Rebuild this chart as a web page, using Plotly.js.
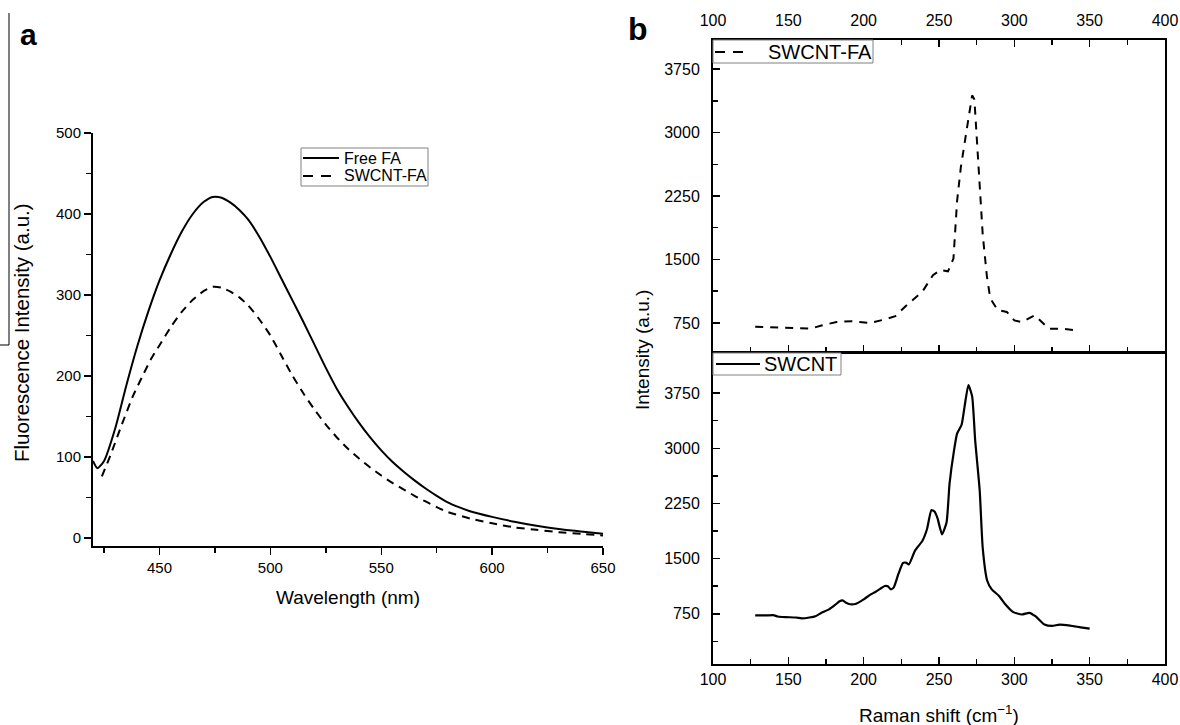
<!DOCTYPE html>
<html>
<head>
<meta charset="utf-8">
<script src="https://cdn.plot.ly/plotly-3.0.1.min.js"></script>
<style>html,body{margin:0;padding:0;background:#fff;}#chart{width:1180px;height:725px;}</style>
</head>
<body>
<div id="chart"></div>
<script>
// ---- Panel a: fluorescence spectra ----
const flFreeX = [420,422,425,430,435,440,445,450,455,460,465,470,474,478,482,486,490,495,500,505,510,515,520,525,530,535,540,545,550,555,560,565,570,575,580,585,590,600,610,620,630,640,650];
const flFreeY = [95,86,95,135,188,237,280,318,350,378,400,415,421,420,414,405,393,372,347,320,293,266,238,210,184,162,142,124,108,94,82,71,61,52,44,38,33,26,20,15,11,8,5];
const flSwX = [424,428,433,438,442,446,450,455,460,465,470,474,478,482,486,490,495,500,505,510,515,520,525,530,535,540,545,550,555,560,565,570,575,580,590,600,610,620,630,640,650];
const flSwY = [76,103,140,175,198,220,238,260,279,294,305,310,309,304,297,287,270,250,225,200,178,158,140,124,110,98,87,77,68,60,52,45,38,32,24,18,13,10,7,5,3];

// ---- Panel b: Raman spectra ----
const ramanFAX = [128,140,150,160,165,172,182,192,204,214,221,229,239,246,251,256,259.6,262,264.5,268,270.6,272,273.5,275,276.8,279,281.7,284,289,295,300,305,313.6,319.7,323,332,342];
const ramanFAY = [703,695,690,683,683,720,760,770,750,790,830,966,1120,1315,1375,1360,1510,2190,2590,2990,3260,3440,3390,2990,2400,1800,1315,1040,900,880,780,760,840,740,680,680,660];
const ramanX = [128,135,140,143,148,155,159,164,168,172,177,181,184,186,188,191,195,200,204,208,211,214,216,218,220,223,226,228,230,234,239,242,245,247,249,252,255,257,260,262,265,267,269.5,272,274,277,279,282,285,290,294,299,305,310,314,320,325,330,337,344,350];
const ramanY = [730,728,732,714,705,700,688,700,718,764,810,870,920,932,905,880,887,946,1005,1050,1090,1128,1125,1083,1110,1288,1440,1446,1420,1606,1743,1900,2160,2140,2050,1830,1990,2520,2975,3200,3320,3570,3860,3705,3110,2430,1650,1200,1083,990,880,777,741,764,718,604,585,604,590,567,549];

// tick values
const aXTicks = [450,500,550,600,650];
const aYTicks = [0,100,200,300,400,500];
const bXTicks = [100,150,200,250,300,350,400];
const bYTicks = [750,1500,2250,3000,3750];

// legend labels
const legA = ['Free FA', 'SWCNT-FA'];
const legB1 = 'SWCNT-FA';
const legB2 = 'SWCNT';

const W = 1180, H = 725;
const px = v => v / W;
const py = v => 1 - v / H;
const FONT = 'Liberation Sans, Arial, sans-serif';

const traces = [
  {x: flFreeX, y: flFreeY, xaxis: 'x', yaxis: 'y', mode: 'lines', name: legA[0],
   line: {color: '#000', width: 2, shape: 'spline', smoothing: 0.6}},
  {x: flSwX, y: flSwY, xaxis: 'x', yaxis: 'y', mode: 'lines', name: legA[1],
   line: {color: '#000', width: 2, dash: '8px,6px', shape: 'spline', smoothing: 0.6}},
  {x: ramanFAX, y: ramanFAY, xaxis: 'x2', yaxis: 'y2', mode: 'lines', name: legB1,
   line: {color: '#000', width: 2, dash: '8px,7px'}},
  {x: ramanX, y: ramanY, xaxis: 'x3', yaxis: 'y3', mode: 'lines', name: legB2,
   line: {color: '#000', width: 2.2, shape: 'spline', smoothing: 0.5}}
];

const axBase = {showgrid: false, zeroline: false, showline: true, linecolor: '#000', linewidth: 2,
  tickcolor: '#000', tickwidth: 1.5, tickfont: {family: FONT, size: 16, color: '#000'}};

function legendBox(x0, y0, x1, y1) {
  return {type: 'rect', xref: 'paper', yref: 'paper', x0: px(x0), x1: px(x1), y0: py(y1), y1: py(y0),
    line: {color: '#808080', width: 1}, fillcolor: '#fff', layer: 'above'};
}
function sample(x0, x1, y, dash, w) {
  return {type: 'line', xref: 'paper', yref: 'paper', x0: px(x0), x1: px(x1), y0: py(y), y1: py(y),
    line: {color: '#000', width: w || 2, dash: dash || 'solid'}, layer: 'above'};
}
function label(text, x, y, size) {
  return {text: text, x: px(x), y: py(y), xref: 'paper', yref: 'paper', xanchor: 'left', yanchor: 'middle',
    showarrow: false, font: {family: FONT, size: size, color: '#000'}};
}

const layout = {
  width: W, height: H,
  margin: {l: 0, r: 0, t: 0, b: 0},
  showlegend: false,
  paper_bgcolor: '#fff', plot_bgcolor: 'rgba(0,0,0,0)',
  font: {family: FONT, color: '#000'},
  xaxis: Object.assign({}, axBase, {domain: [px(93), px(603)], range: [420, 650], anchor: 'y',
    tickvals: aXTicks, ticks: 'outside', ticklen: 7, tickfont: {family: FONT, size: 15, color: '#000'},
    minor: {dtick: 25, tick0: 0, ticks: 'outside', ticklen: 5, tickcolor: '#000', tickwidth: 1.5}}),
  yaxis: Object.assign({}, axBase, {domain: [py(546), py(133)], range: [-10, 500], anchor: 'x',
    tickvals: aYTicks, ticks: 'outside', ticklen: 7, tickfont: {family: FONT, size: 15, color: '#000'},
    minor: {dtick: 50, tick0: 0, ticks: 'outside', ticklen: 5, tickcolor: '#000', tickwidth: 1.5}}),
  xaxis2: Object.assign({}, axBase, {domain: [px(713), px(1165)], range: [100, 400], anchor: 'y2',
    side: 'top', mirror: 'ticks', tickvals: bXTicks, ticks: 'inside', ticklen: 7, ticklabelstandoff: 6,
    minor: {dtick: 25, tick0: 0, ticks: 'inside', ticklen: 5, tickcolor: '#000', tickwidth: 1.5}}),
  yaxis2: Object.assign({}, axBase, {domain: [py(352), py(40)], range: [406, 4094], anchor: 'x2',
    mirror: true, tickvals: bYTicks, ticks: 'inside', ticklen: 7, ticklabelstandoff: 8,
    minor: {dtick: 375, tick0: 0, ticks: 'inside', ticklen: 5, tickcolor: '#000', tickwidth: 1.5}}),
  xaxis3: Object.assign({}, axBase, {domain: [px(713), px(1165)], range: [100, 400], anchor: 'y3',
    side: 'bottom', mirror: true, tickvals: bXTicks, ticks: 'inside', ticklen: 7,
    minor: {dtick: 25, tick0: 0, ticks: 'inside', ticklen: 5, tickcolor: '#000', tickwidth: 1.5}}),
  yaxis3: Object.assign({}, axBase, {domain: [py(664), py(353)], range: [68, 4295], anchor: 'x3',
    mirror: true, tickvals: bYTicks, ticks: 'inside', ticklen: 7, ticklabelstandoff: 8,
    minor: {dtick: 375, tick0: 0, ticks: 'inside', ticklen: 5, tickcolor: '#000', tickwidth: 1.5}}),
  annotations: [
    {text: '<b>a</b>', x: px(18), y: py(35), xref: 'paper', yref: 'paper', xanchor: 'left', yanchor: 'middle',
     showarrow: false, font: {family: FONT, size: 30, color: '#000'}},
    {text: '<b>b</b>', x: px(626), y: py(29), xref: 'paper', yref: 'paper', xanchor: 'left', yanchor: 'middle',
     showarrow: false, font: {family: FONT, size: 32, color: '#000'}},
    {text: 'Wavelength (nm)', x: px(348), y: py(597), xref: 'paper', yref: 'paper', xanchor: 'center', yanchor: 'middle',
     showarrow: false, font: {family: FONT, size: 19, color: '#000'}},
    {text: 'Fluorescence Intensity (a.u.)', x: px(22), y: py(333), xref: 'paper', yref: 'paper', xanchor: 'center', yanchor: 'middle',
     textangle: -90, showarrow: false, font: {family: FONT, size: 20.5, color: '#000'}},
    {text: 'Raman shift (cm<sup>−1</sup>)', x: px(939), y: py(714), xref: 'paper', yref: 'paper', xanchor: 'center', yanchor: 'middle',
     showarrow: false, font: {family: FONT, size: 19, color: '#000'}},
    {text: 'Intensity (a.u.)', x: px(642), y: py(350), xref: 'paper', yref: 'paper', xanchor: 'center', yanchor: 'middle',
     textangle: -90, showarrow: false, font: {family: FONT, size: 19, color: '#000'}},
    label(legA[0], 342, 158, 16),
    label(legA[1], 342, 176, 16),
    label(legB1, 766, 52, 20),
    label(legB2, 762, 364, 20)
  ],
  shapes: [
    {type: 'line', xref: 'paper', yref: 'paper', x0: px(9), x1: px(9), y0: py(13), y1: py(345), line: {color: '#000', width: 1}},
    {type: 'line', xref: 'paper', yref: 'paper', x0: 0, x1: px(9), y0: py(345), y1: py(345), line: {color: '#000', width: 1}},
    legendBox(301, 148, 428, 186),
    sample(303, 339, 158, 'solid', 2),
    sample(303, 339, 176, '10px,8px', 2),
    legendBox(713, 40, 873, 63),
    sample(715, 744, 52, '10px,8px', 2),
    legendBox(713, 353, 841, 375),
    sample(716, 760, 364, 'solid', 2)
  ]
};

Plotly.newPlot('chart', traces, layout, {staticPlot: true, displayModeBar: false});
</script>
</body>
</html>
